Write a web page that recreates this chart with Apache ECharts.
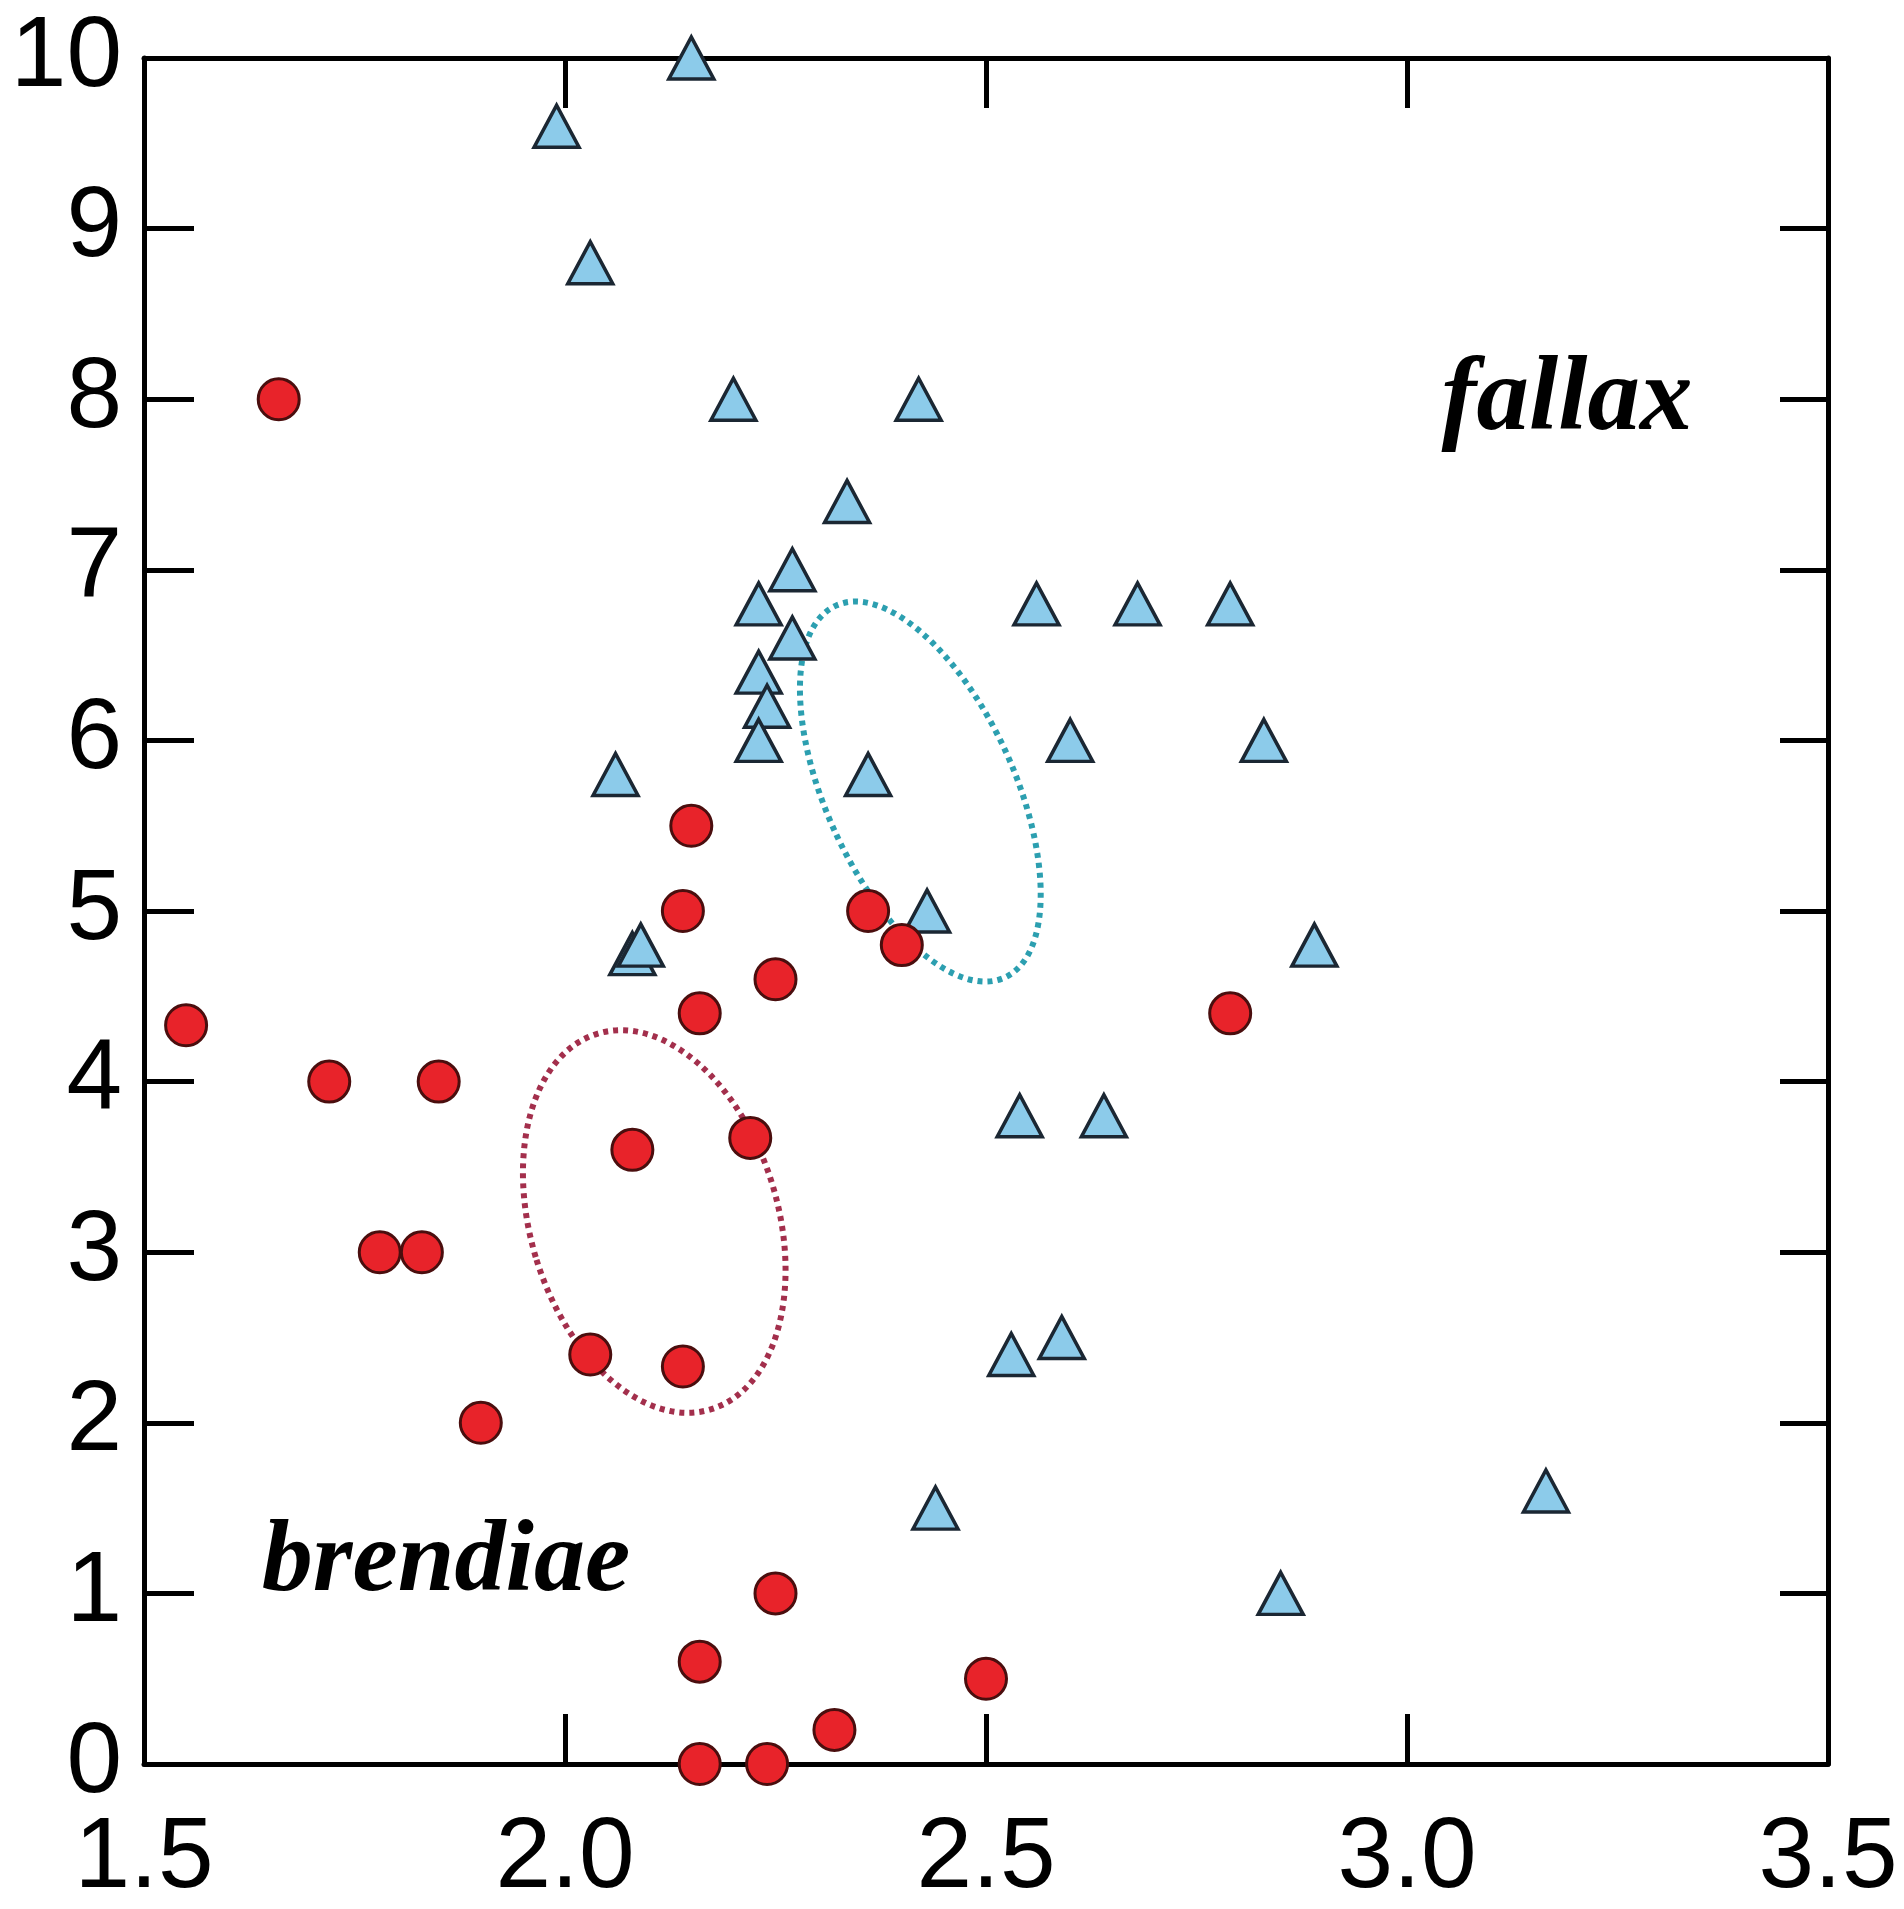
<!DOCTYPE html>
<html>
<head>
<meta charset="utf-8">
<script src="https://cdn.jsdelivr.net/npm/echarts@6/dist/echarts.min.js"></script>
<style>
  html, body { margin: 0; padding: 0; background: #fff; }
  #chart { width: 1904px; height: 1909px; }
</style>
</head>
<body>
<div id="chart"></div>
<script>
// brendiae (red circles) [x, y]
let brendiae = [
  [1.66, 8.0], [1.55, 4.33], [1.72, 4.0], [1.85, 4.0], [1.78, 3.0], [1.83, 3.0],
  [1.90, 2.0], [2.15, 5.5], [2.14, 5.0], [2.16, 4.4], [2.25, 4.6], [2.36, 5.0],
  [2.40, 4.8], [2.08, 3.6], [2.22, 3.67], [2.03, 2.4], [2.14, 2.33], [2.79, 4.4],
  [2.25, 1.0], [2.16, 0.6], [2.50, 0.5], [2.32, 0.2], [2.16, 0.0], [2.24, 0.0]
];

// fallax (blue triangles) [x, y]
let fallax = [
  [2.15, 10.0], [1.99, 9.6], [2.03, 8.8], [2.20, 8.0], [2.42, 8.0], [2.335, 7.4],
  [2.27, 7.0], [2.23, 6.8], [2.27, 6.6], [2.23, 6.4], [2.24, 6.2], [2.23, 6.0],
  [2.06, 5.8], [2.36, 5.8], [2.43, 5.0], [2.08, 4.75], [2.09, 4.8], [2.56, 6.8],
  [2.68, 6.8], [2.79, 6.8], [2.60, 6.0], [2.83, 6.0], [2.89, 4.8], [2.54, 3.8],
  [2.64, 3.8], [2.59, 2.5], [2.53, 2.4], [2.44, 1.5], [3.165, 1.6], [2.85, 1.0]
];

// ellipses: [centerX, centerY, halfWidthX, halfHeightY, rotationDeg]
let cyanEllipse = [[2.422, 5.70, 0.112, 1.197, 24.4]];
let redEllipse = [[2.106, 3.18, 0.147, 1.150, 16.7]];

let myChart = echarts.init(document.getElementById('chart'));

function ellipseRenderer(color) {
  return function (params, api) {
    let c = api.coord([api.value(0), api.value(1)]);
    let s = api.size([api.value(2), api.value(3)]);
    return {
      type: 'ellipse',
      x: c[0],
      y: c[1],
      rotation: api.value(4) * Math.PI / 180,
      shape: { cx: 0, cy: 0, rx: s[0], ry: s[1] },
      style: { fill: 'none', stroke: color, lineWidth: 6, lineDash: [5, 5] }
    };
  };
}

let axisFont = {
  color: '#000',
  fontSize: 100,
  fontFamily: 'Liberation Sans, Arial, sans-serif'
};
let lineBlack = { color: '#000', width: 5 };

let option = {
  backgroundColor: '#fff',
  animation: false,
  grid: { left: 144, right: 76, top: 58, bottom: 141 },
  xAxis: [
    {
      type: 'value', min: 1.5, max: 3.5, interval: 0.5,
      axisLine: { onZero: false, lineStyle: lineBlack },
      axisTick: { inside: true, length: 50, lineStyle: lineBlack },
      axisLabel: Object.assign({ margin: 45, formatter: v => v.toFixed(1) }, axisFont),
      splitLine: { show: false }
    },
    {
      type: 'value', position: 'top', min: 1.5, max: 3.5, interval: 0.5,
      axisLine: { onZero: false, lineStyle: lineBlack },
      axisTick: { inside: true, length: 50, lineStyle: lineBlack },
      axisLabel: { show: false },
      splitLine: { show: false }
    }
  ],
  yAxis: [
    {
      type: 'value', min: 0, max: 10, interval: 1,
      axisLine: { onZero: false, lineStyle: lineBlack },
      axisTick: { inside: true, length: 50, lineStyle: lineBlack },
      axisLabel: Object.assign({ margin: 22 }, axisFont),
      splitLine: { show: false }
    },
    {
      type: 'value', position: 'right', min: 0, max: 10, interval: 1,
      axisLine: { onZero: false, lineStyle: lineBlack },
      axisTick: { inside: true, length: 48, lineStyle: lineBlack },
      axisLabel: { show: false },
      splitLine: { show: false }
    }
  ],
  series: [
    {
      type: 'custom',
      renderItem: ellipseRenderer('#2c9fb0'),
      data: cyanEllipse,
      clip: false,
      silent: true
    },
    {
      type: 'custom',
      renderItem: ellipseRenderer('#a32f4c'),
      data: redEllipse,
      clip: false,
      silent: true
    },
    {
      name: 'fallax',
      type: 'scatter',
      symbol: 'triangle',
      symbolSize: [45, 42],
      data: fallax,
      itemStyle: { color: '#8ccbea', borderColor: '#1b2733', borderWidth: 3.5, opacity: 1 }
    },
    {
      name: 'brendiae',
      type: 'scatter',
      symbol: 'circle',
      symbolSize: 41,
      data: brendiae,
      itemStyle: { color: '#e8232a', borderColor: '#4a0e0e', borderWidth: 3, opacity: 1 }
    }
  ],
  graphic: [
    {
      type: 'text', x: 1567, y: 402,
      style: {
        text: 'fallax', fill: '#000', align: 'center', verticalAlign: 'middle',
        font: 'italic bold 105px "Liberation Serif", "Times New Roman", serif'
      }
    },
    {
      type: 'text', x: 446, y: 1564,
      style: {
        text: 'brendiae', fill: '#000', align: 'center', verticalAlign: 'middle',
        font: 'italic bold 102px "Liberation Serif", "Times New Roman", serif'
      }
    }
  ]
};

myChart.setOption(option);
window.addEventListener('resize', function () {
  myChart.resize();
});
</script>
</body>
</html>
